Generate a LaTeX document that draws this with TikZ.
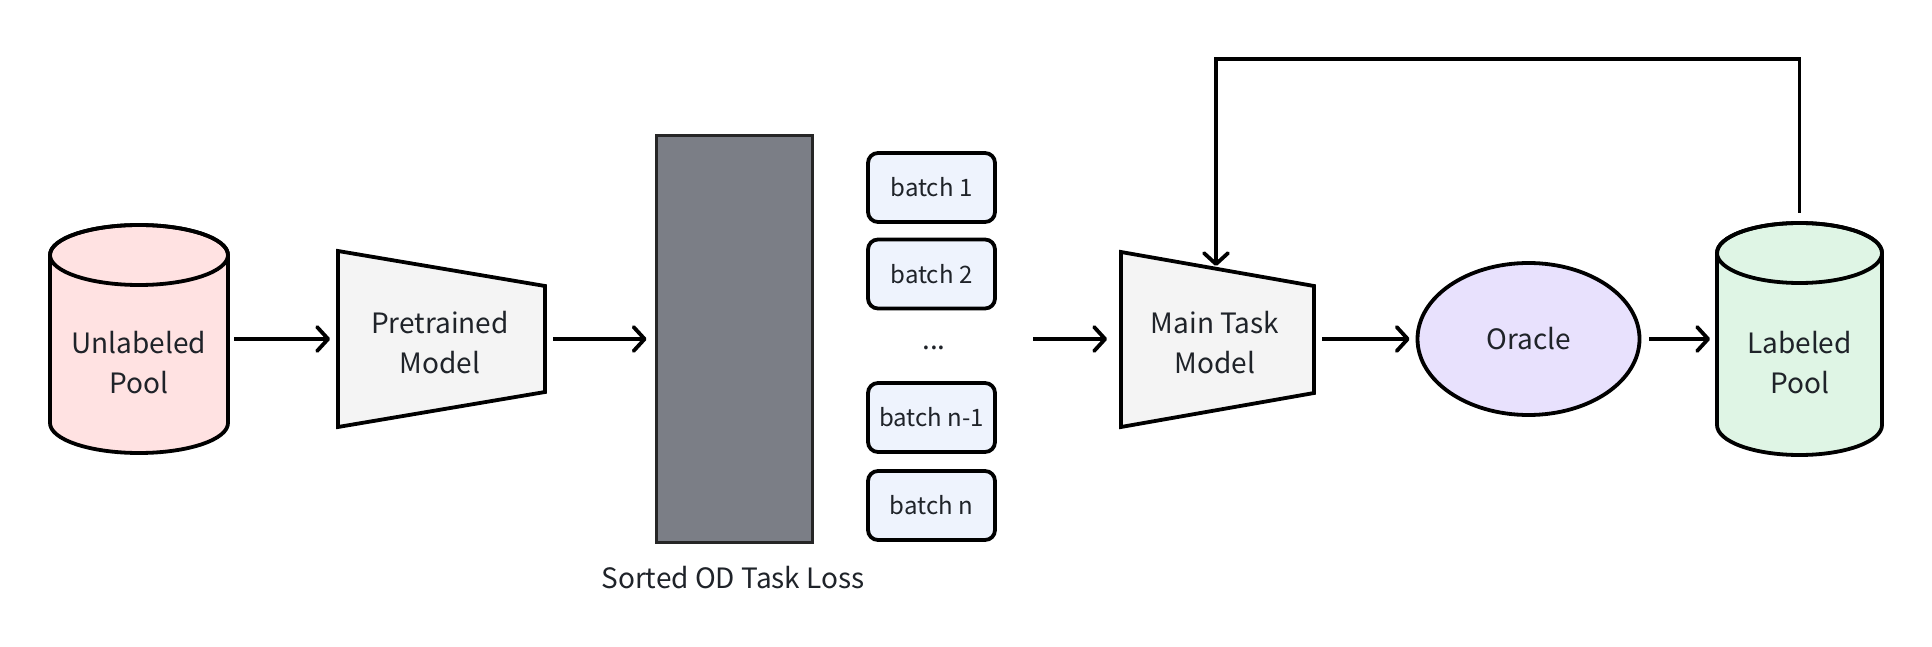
\documentclass[tikz,border=0pt]{standalone}
\usepackage{fontspec}
\setmainfont{Noto Sans CJK SC}
\usetikzlibrary{arrows.meta,shapes.geometric}
\definecolor{txtc}{HTML}{1F2329}
\definecolor{pinkc}{HTML}{FFE2E2}
\definecolor{trapc}{HTML}{F4F4F4}
\definecolor{lossc}{HTML}{7B7E86}
\definecolor{lossb}{HTML}{262626}
\definecolor{batchc}{HTML}{EEF3FD}
\definecolor{orc}{HTML}{E8E1FD}
\definecolor{greenc}{HTML}{DFF5E5}
\begin{document}
\begin{tikzpicture}[x=1pt,y=1pt,
  arr/.style={line width=3.8pt, -{Straight Barb[length=11pt,width=24pt,round]}},
  shapebox/.style={draw=none, inner sep=0pt, outer sep=0pt},
  outl/.style={draw=black, line width=3.8pt},
  lbl/.style={font=\fontsize{28}{40}\selectfont, text=txtc, align=center, inner sep=0pt},
  batchbox/.style={draw=black, line width=3.8pt, rounded corners=10pt, fill=batchc,
    minimum width=127pt, minimum height=69pt, font=\fontsize{24}{28}\selectfont,
    text=txtc, inner sep=0pt},
]
\useasboundingbox (0,0) rectangle (1932,646);

% Unlabeled pool cylinder
\node[shapebox, minimum width=178pt, minimum height=228pt] (up) at (139,307) {};
\path[outl, fill=pinkc] (50,391) -- (50,223)
  arc[start angle=180, end angle=360, x radius=89, y radius=30]
  -- (228,391) arc[start angle=0, end angle=180, x radius=89, y radius=30] -- cycle;
\draw[outl] (139,391) ellipse[x radius=89, y radius=30];
\node[lbl] (upt) at (139,283) {Unlabeled\\Pool};

% Pretrained model trapezoid
\node[shapebox, minimum width=207pt, minimum height=176pt] (pm) at (441.5,307) {};
\path[outl, fill=trapc] (338,395) -- (545,360) -- (545,254) -- (338,219) -- cycle;
\node[lbl] (pmt) at (440,303) {Pretrained\\Model};

% Sorted loss bar
\node[draw=lossb, fill=lossc, line width=3pt, minimum width=156pt, minimum height=406pt,
  inner sep=0pt] (loss) at (734,307) {};
\node[lbl] (losst) at (733,68) {Sorted OD Task Loss};

% batches
\node[batchbox] (b1) at (931.5,458.5) {batch 1};
\node[batchbox] (b2) at (931.5,372) {batch 2};
\node[lbl, anchor=base] (dots) at (934,297) {...};
\node[batchbox] (bn1) at (931.5,228.5) {batch n-1};
\node[batchbox] (bn) at (931.5,140.5) {batch n};
\coordinate (bc) at (1033,307);

% Main task model trapezoid
\node[shapebox, minimum width=193pt, minimum height=175pt] (mtm) at (1217.5,307) {};
\path[outl, fill=trapc] (1121,394) -- (1314,360) -- (1314,253) -- (1121,219) -- cycle;
\node[lbl] (mtmt) at (1215,303) {Main Task\\Model};

% Oracle
\node[ellipse, outl, fill=orc, minimum width=222pt, minimum height=152pt, inner sep=0pt,
  font=\fontsize{28}{40}\selectfont, text=txtc] (or) at (1528.5,307) {Oracle};

% Labeled pool cylinder
\node[shapebox, minimum width=165pt, minimum height=232pt] (lp) at (1799.5,307) {};
\path[outl, fill=greenc] (1717,393) -- (1717,221)
  arc[start angle=180, end angle=360, x radius=82.5, y radius=30]
  -- (1882,393) arc[start angle=0, end angle=180, x radius=82.5, y radius=30] -- cycle;
\draw[outl] (1799.5,393) ellipse[x radius=82.5, y radius=30];
\node[lbl] (lpt) at (1799.5,283) {Labeled\\Pool};

% connectors
\draw[arr, shorten <=6pt, shorten >=8pt] (up.east) -- (pm.west);
\draw[arr, shorten <=8pt, shorten >=8pt] (pm.east) -- (loss.west);
\draw[arr, shorten >=14pt] (bc) -- (mtm.west);
\draw[arr, shorten <=8pt, shorten >=6pt] (mtm.east) -- (or.west);
\draw[arr, shorten <=8pt, shorten >=7pt] (or.east) -- (lp.west);
\coordinate (fbtop) at (0,587);
\coordinate (fbend) at (1216,380);
\draw[arr, shorten <=10pt, line join=miter] (lp.north) -- (lp.north |- fbtop) -| (fbend);
\end{tikzpicture}
\end{document}
